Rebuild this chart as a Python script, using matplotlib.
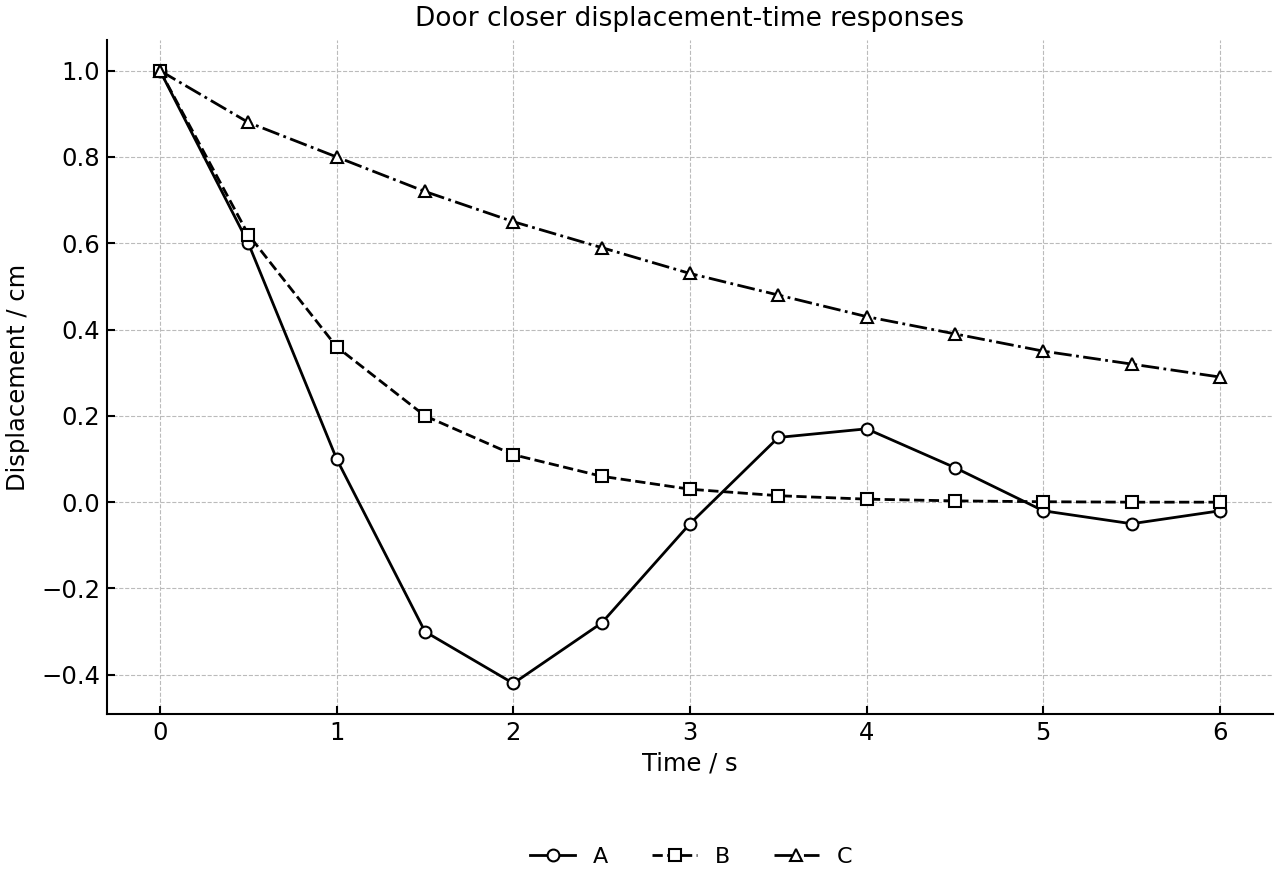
import matplotlib
matplotlib.use("Agg")
import matplotlib.pyplot as plt

t = [0, 0.5, 1, 1.5, 2, 2.5, 3, 3.5, 4, 4.5, 5, 5.5, 6]
series_names = ["A", "B", "C"]
a_vals = [1.0, 0.6, 0.1, -0.3, -0.42, -0.28, -0.05, 0.15, 0.17, 0.08, -0.02, -0.05, -0.02]
b_vals = [1.0, 0.62, 0.36, 0.2, 0.11, 0.06, 0.03, 0.015, 0.007, 0.003, 0.001, 0.0, 0.0]
c_vals = [1.0, 0.88, 0.80, 0.72, 0.65, 0.59, 0.53, 0.48, 0.43, 0.39, 0.35, 0.32, 0.29]

fig = plt.figure(figsize=(12.8, 8.8), dpi=100)
ax = fig.add_axes([0.0836, 0.1886, 0.9109, 0.7659])

styles = [("-", "o"), ("--", "s"), ("-.", "^")]
for name, vals, (ls, mk) in zip(series_names, [a_vals, b_vals, c_vals], styles):
    ax.plot(t, vals, linestyle=ls, marker=mk, color="black", linewidth=2.0,
            markersize=8.5, markerfacecolor="white", markeredgecolor="black",
            markeredgewidth=1.5, label=name)

ax.grid(True, linestyle="--", color="#bbbbbb", linewidth=0.8)
ax.set_axisbelow(True)
for s in ["top", "right"]:
    ax.spines[s].set_visible(False)
for s in ["left", "bottom"]:
    ax.spines[s].set_linewidth(1.5)
ax.tick_params(direction="in", labelsize=17.5, width=1.5, length=6, pad=5)
ax.set_xlabel("Time / s", fontsize=17.5, labelpad=5)
ax.set_ylabel("Displacement / cm", fontsize=17.5, labelpad=8)
ax.set_title("Door closer displacement-time responses", fontsize=19, pad=10)
fig.legend(loc="lower center", bbox_to_anchor=(0.54, -0.008), ncol=3, frameon=False,
           fontsize=16, columnspacing=2.0)
fig.savefig("out.png", dpi=100)
